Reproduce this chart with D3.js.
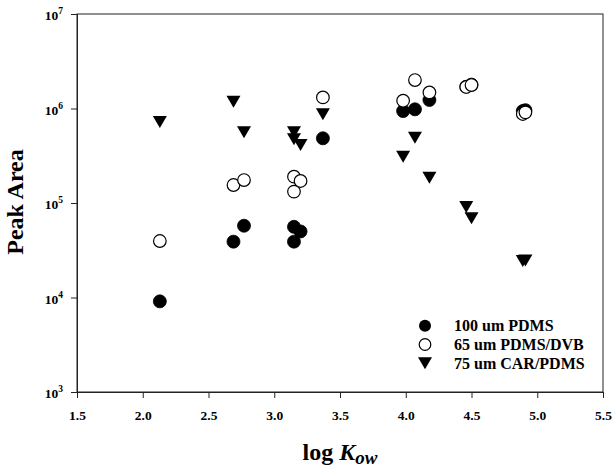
<!DOCTYPE html>
<html><head><meta charset="utf-8">
<script src="https://cdn.jsdelivr.net/npm/d3@7"></script>
<style>
body{margin:0;background:#fff;}
svg{display:block;font-family:"Liberation Serif","Times New Roman",serif;font-weight:bold;}
</style></head>
<body><svg id="c" width="614" height="471"></svg>
<script>
// ---- data ----
const logKow = [2.13, 2.69, 2.77, 3.15, 3.15, 3.20, 3.37, 3.98, 4.07, 4.18, 4.46, 4.50, 4.89, 4.91];
const pdms100 = [9100, 39000, 57500, 56000, 39000, 50000, 484000, 940000, 980000, 1230000, 1700000, 1790000, 940000, 960000];
const pdmsDvb65 = [39600, 155000, 175000, 190000, 132000, 171000, 1310000, 1210000, 2000000, 1480000, 1690000, 1770000, 875000, 910000];
const carPdms75 = [720000, 1180000, 560000, 560000, 472000, 411000, 869000, 309000, 491000, 185000, 90800, 68800, 24300, 24700];
const seriesNames = ["100 um PDMS", "65 um PDMS/DVB", "75 um CAR/PDMS"];
const xTicks = [1.5, 2.0, 2.5, 3.0, 3.5, 4.0, 4.5, 5.0, 5.5];
const yTickExps = [3, 4, 5, 6, 7];

// ---- layout ----
const L = 77, R = 603, T = 14, B = 392;
const svg = d3.select("#c");
const x = d3.scaleLinear().domain([1.5, 5.5]).range([L, R]);
const y = d3.scaleLog().domain([1e3, 1e7]).range([B, T]);
const ink = "#222";

// frame
svg.append("rect").attr("x", L).attr("y", T).attr("width", R - L).attr("height", B - T)
  .attr("fill", "none").attr("stroke", ink).attr("stroke-width", 1);

// x axis
const xa = svg.append("g").attr("transform", `translate(0,${B})`)
  .call(d3.axisBottom(x).tickValues(xTicks).tickFormat(d3.format(".1f")).tickSize(6).tickPadding(12));
xa.select(".domain").attr("stroke", ink);
xa.selectAll(".tick line").attr("stroke", ink);
xa.selectAll(".tick text").attr("font-size", 13.5).attr("font-family", "Liberation Serif").attr("font-weight", "bold").attr("fill", "#000");

// y axis
const ya = svg.append("g").attr("transform", `translate(${L},0)`)
  .call(d3.axisLeft(y).tickValues(yTickExps.map(e => Math.pow(10, e))).tickFormat("").tickSize(6));
ya.select(".domain").attr("stroke", ink);
ya.selectAll(".tick line").attr("stroke", ink);
ya.selectAll(".tick").each(function (d) {
  const t = d3.select(this).append("text").attr("x", -14).attr("y", 5.5)
    .attr("text-anchor", "end").attr("fill", "#000")
    .attr("font-family", "Liberation Serif").attr("font-weight", "bold");
  t.append("tspan").attr("font-size", 13.5).text("10");
  t.append("tspan").attr("font-size", 9.5).attr("dy", -6).text(Math.round(Math.log10(d)));
});

// axis titles
svg.append("text").attr("transform", "translate(23,202) rotate(-90)")
  .attr("text-anchor", "middle").attr("font-size", 24).attr("fill", "#000").text("Peak Area");
const xt = svg.append("text").attr("x", 340).attr("y", 460).attr("text-anchor", "middle")
  .attr("font-size", 24).attr("fill", "#000");
xt.append("tspan").text("log ");
xt.append("tspan").attr("font-style", "italic").text("K");
xt.append("tspan").attr("font-style", "italic").attr("font-size", 19).attr("dy", 4).text("ow");

// markers
const tri = (w, h) => `M${-w/2},${-h/2}L${w/2},${-h/2}L0,${h/2}Z`;
const g = svg.append("g");
g.selectAll("circle.f").data(logKow.map((k, i) => [k, pdms100[i]])).join("circle")
  .attr("cx", d => x(d[0])).attr("cy", d => y(d[1])).attr("r", 6.5)
  .attr("fill", "#000").attr("stroke", "#000").attr("stroke-width", 0.8);
g.selectAll("circle.o").data(logKow.map((k, i) => [k, pdmsDvb65[i]])).join(enter => enter.append("circle"))
  .attr("cx", d => x(d[0])).attr("cy", d => y(d[1])).attr("r", 6.3)
  .attr("fill", "#fff").attr("stroke", "#000").attr("stroke-width", 1.2);
g.selectAll("path.t").data(logKow.map((k, i) => [k, carPdms75[i]])).join(enter => enter.append("path"))
  .attr("transform", d => `translate(${x(d[0])},${y(d[1])})`)
  .attr("d", tri(14, 12)).attr("fill", "#000");

// legend
const lg = svg.append("g");
const rowY = [325.7, 344.5, 363.3];
lg.append("circle").attr("cx", 425).attr("cy", rowY[0]).attr("r", 6).attr("fill", "#000");
lg.append("circle").attr("cx", 425).attr("cy", rowY[1]).attr("r", 5.8).attr("fill", "#fff").attr("stroke", "#000").attr("stroke-width", 1.2);
lg.append("path").attr("transform", `translate(425,${rowY[2]})`).attr("d", tri(14, 12)).attr("fill", "#000");
seriesNames.forEach((n, i) => {
  lg.append("text").attr("x", 454).attr("y", rowY[i] + 5.3).attr("font-size", 16).attr("fill", "#000").text(n);
});
</script></body></html>
